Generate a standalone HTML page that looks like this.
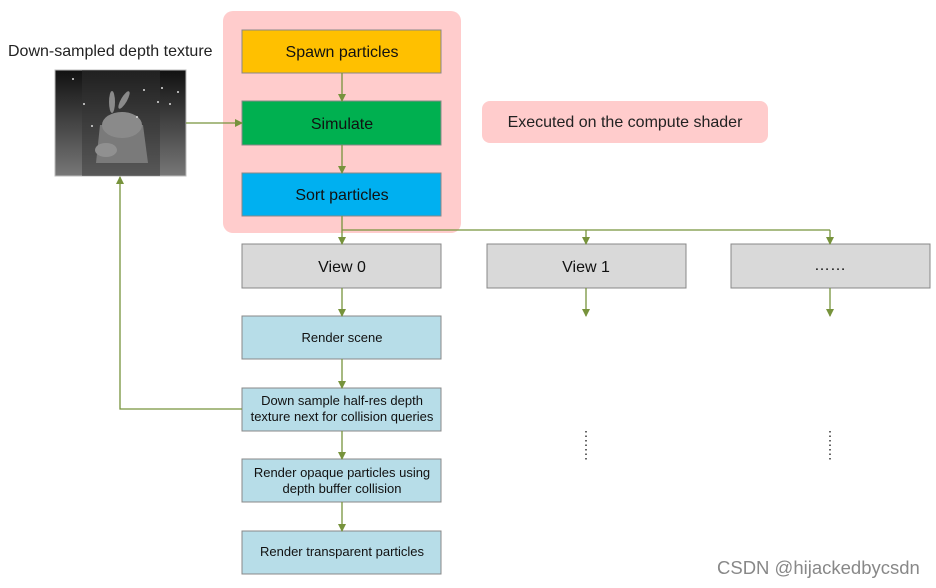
<!DOCTYPE html>
<html><head><meta charset="utf-8"><style>
html,body{margin:0;padding:0;background:#fff;}
svg{display:block;font-family:"Liberation Sans",sans-serif;}
</style></head><body>
<svg width="936" height="588" viewBox="0 0 936 588" xmlns="http://www.w3.org/2000/svg">
<defs>
<marker id="a" markerWidth="8" markerHeight="8" refX="7" refY="4" orient="auto" markerUnits="userSpaceOnUse" viewBox="0 0 8 8">
<path d="M0,0 L8,4 L0,8 z" fill="#77933C"/></marker>
<linearGradient id="g" x1="0" y1="0" x2="0" y2="1"><stop offset="0" stop-color="#111"/><stop offset="1" stop-color="#777"/></linearGradient>
</defs>
<rect x="223" y="11" width="238" height="222" rx="10" fill="#FFCCCC"/>
<rect x="482" y="101" width="286" height="42" rx="8" fill="#FFCCCC"/>
<text x="625" y="127" font-size="16" text-anchor="middle" fill="#222">Executed on the compute shader</text>
<text x="8" y="56" font-size="16" fill="#222">Down-sampled depth texture</text>
<rect x="55" y="70" width="131" height="106" fill="url(#g)" stroke="#bbb"/>
<rect x="82" y="70" width="78" height="106" fill="#333" opacity="0.45"/>
<polygon points="100,125 143,125 148,163 96,163" fill="#7a7a7a"/>
<ellipse cx="122" cy="125" rx="20" ry="13" fill="#8a8a8a"/>
<ellipse cx="112" cy="102" rx="3" ry="11" fill="#8a8a8a"/>
<ellipse cx="124" cy="100" rx="3" ry="10" fill="#8a8a8a" transform="rotate(30 124 100)"/>
<ellipse cx="106" cy="150" rx="11" ry="7" fill="#909090"/>
<g fill="#ddd"><circle cx="73" cy="79" r="1"/><circle cx="84" cy="104" r="1"/><circle cx="144" cy="90" r="1"/><circle cx="162" cy="88" r="1"/><circle cx="170" cy="104" r="1"/><circle cx="158" cy="102" r="1"/><circle cx="137" cy="117" r="1"/><circle cx="92" cy="126" r="1"/><circle cx="178" cy="92" r="1"/></g>
<g stroke="#888" stroke-width="1">
<rect x="242" y="30" width="199" height="43" fill="#FFC000"/>
<rect x="242" y="101" width="199" height="44" fill="#00B050"/>
<rect x="242" y="173" width="199" height="43" fill="#00B0F0"/>
<rect x="242" y="244" width="199" height="44" fill="#D9D9D9"/>
<rect x="487" y="244" width="199" height="44" fill="#D9D9D9"/>
<rect x="731" y="244" width="199" height="44" fill="#D9D9D9"/>
<rect x="242" y="316" width="199" height="43" fill="#B7DDE8"/>
<rect x="242" y="388" width="199" height="43" fill="#B7DDE8"/>
<rect x="242" y="459" width="199" height="43" fill="#B7DDE8"/>
<rect x="242" y="531" width="199" height="43" fill="#B7DDE8"/>
</g>
<g font-size="16" text-anchor="middle" fill="#111">
<text x="342" y="57">Spawn particles</text>
<text x="342" y="129">Simulate</text>
<text x="342" y="200">Sort particles</text>
<text x="342" y="272">View 0</text>
<text x="586" y="272">View 1</text>
<text x="830" y="270">……</text>
</g>
<g font-size="13" text-anchor="middle" fill="#111">
<text x="342" y="342">Render scene</text>
<text x="342" y="405">Down sample half-res depth</text>
<text x="342" y="421">texture next for collision queries</text>
<text x="342" y="477">Render opaque particles using</text>
<text x="342" y="493">depth buffer collision</text>
<text x="342" y="556">Render transparent particles</text>
</g>
<g stroke="#77933C" stroke-width="1.3" fill="none">
<line x1="342" y1="73" x2="342" y2="101" marker-end="url(#a)"/>
<line x1="342" y1="145" x2="342" y2="173" marker-end="url(#a)"/>
<line x1="342" y1="216" x2="342" y2="244" marker-end="url(#a)"/>
<polyline points="342,230 830,230"/>
<line x1="586" y1="230" x2="586" y2="244" marker-end="url(#a)"/>
<line x1="830" y1="230" x2="830" y2="244" marker-end="url(#a)"/>
<line x1="342" y1="288" x2="342" y2="316" marker-end="url(#a)"/>
<line x1="586" y1="288" x2="586" y2="316" marker-end="url(#a)"/>
<line x1="830" y1="288" x2="830" y2="316" marker-end="url(#a)"/>
<line x1="342" y1="359" x2="342" y2="388" marker-end="url(#a)"/>
<line x1="342" y1="431" x2="342" y2="459" marker-end="url(#a)"/>
<line x1="342" y1="502" x2="342" y2="531" marker-end="url(#a)"/>
<line x1="186" y1="123" x2="242" y2="123" marker-end="url(#a)"/>
<polyline points="242,409 120,409 120,177" marker-end="url(#a)"/>
</g>
<g stroke="#333" stroke-width="1.5" stroke-dasharray="1.5,3">
<line x1="586" y1="431" x2="586" y2="461"/>
<line x1="830" y1="431" x2="830" y2="461"/>
</g>
<text x="717" y="574" font-size="18.5" fill="#888">CSDN @hijackedbycsdn</text>
</svg>
</body></html>
